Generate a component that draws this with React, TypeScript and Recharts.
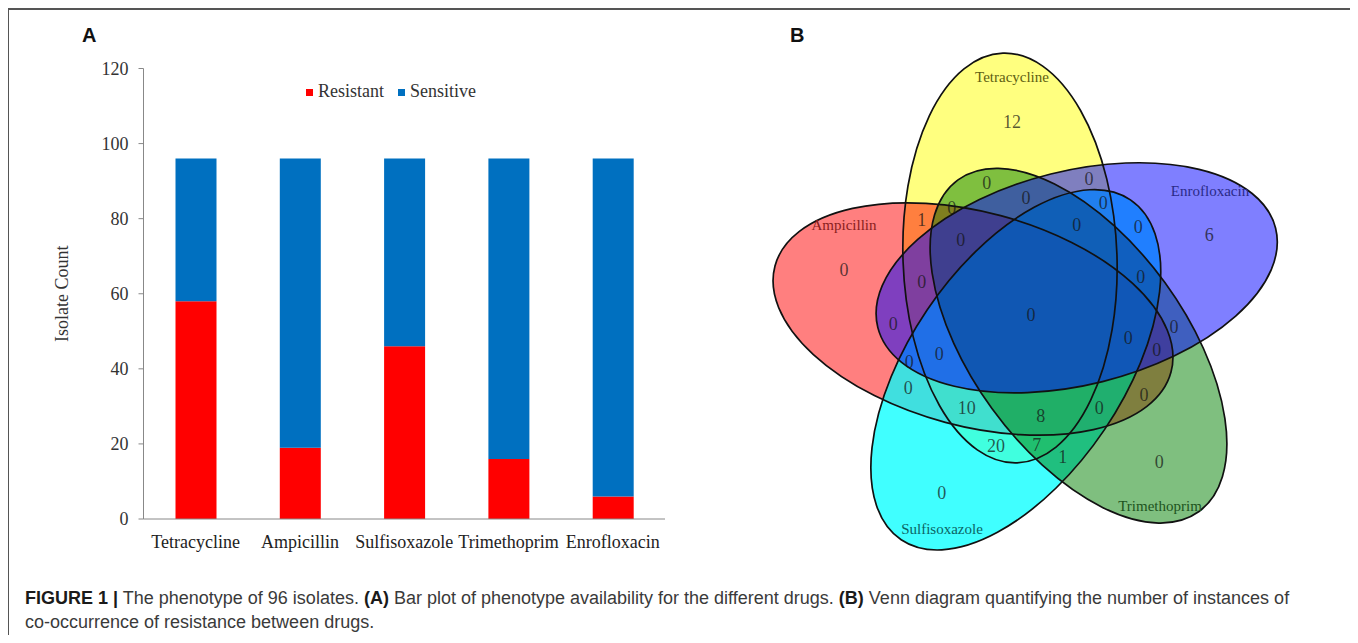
import React from 'react';
import { Bar, BarChart, Legend, Scatter, ScatterChart, XAxis, YAxis } from 'recharts';

// panel A: phenotype counts per drug (96 isolates)
const drugs = ['Tetracycline', 'Ampicillin', 'Sulfisoxazole', 'Trimethoprim', 'Enrofloxacin'];
const resistant = [58, 19, 46, 16, 6];
const sensitive = [38, 77, 50, 80, 90];
const yTicks = [0, 20, 40, 60, 80, 100, 120];
const edgeTicks = [0, 1, 2, 3, 4, 5];

const barData = drugs.map((drug, i) => ({ drug, resistant: resistant[i], sensitive: sensitive[i] }));

// panel B: five-set venn, ellipses in draw order
const vennSets = ['Tetracycline', 'Ampicillin', 'Sulfisoxazole', 'Trimethoprim', 'Enrofloxacin'];
const vennFill = ['#ffff00', '#ff0000', '#00ffff', '#008000', '#0000ff'];
const vennAlpha = [0.5, 0.5, 0.75, 0.5, 0.5];
const vennCx = [1010, 973, 1015.8, 1078.5, 1076.7];
const vennCy = [258, 319, 369.8, 345.7, 277.8];
const vennAngle = [-92, 195, 124, 54, -14];
const vennRx = 205;
const vennRy = 107;
const vennNameX = [1012, 844, 942, 1160, 1210];
const vennNameY = [77, 225, 529, 506, 191];
const vennNameColor = ['#5e5e12', '#8a1d1d', '#0b6464', '#1d531d', '#2a2a88'];

// region counts and where they sit
const regionCounts = [12, 0, 0, 0, 0, 0, 1, 0, 0, 6, 0, 0, 0, 0, 0, 0, 0, 0, 0, 0, 0, 0, 0, 10, 0, 8, 20, 7, 1, 0, 0];
const regionX = [1012, 986.7, 1089, 1026, 1103.3, 951.7, 921.7, 1076.7, 1138.3, 1209.3, 960.7, 844, 921.7, 1140.7, 1031, 893.3, 1174, 1128.3, 1156.7, 939.3, 909.3, 908.3, 1144, 966.7, 1099.3, 1040.7, 996, 1036.7, 1062.7, 1159.3, 941.7];
const regionY = [121.7, 183.3, 179.3, 198.3, 203.3, 208.3, 220, 225, 226.7, 235, 240, 270, 281.7, 277.3, 315, 324, 327.3, 338.3, 350, 354, 361.7, 388.3, 395, 408.3, 408.3, 416, 446, 445, 457.3, 461.7, 493.3];

const ellipses = vennSets.map((name, i) => ({
  name, x: vennCx[i], y: vennCy[i], angle: vennAngle[i], fill: vennFill[i], alpha: vennAlpha[i],
}));
const setNames = vennSets.map((name, i) => ({ name, x: vennNameX[i], y: vennNameY[i], color: vennNameColor[i] }));
const regions = regionCounts.map((n, i) => ({ n, x: regionX[i], y: regionY[i] }));

const serif = '"Liberation Serif", "Times New Roman", serif';
const sans = '"Liberation Sans", Arial, sans-serif';

const EllipseFill = (props: any) => {
  const { cx, cy, payload } = props;
  return (
    <ellipse cx={cx} cy={cy} rx={vennRx} ry={vennRy} transform={`rotate(${payload.angle} ${cx} ${cy})`}
      fill={payload.fill} fillOpacity={payload.alpha} stroke="none" />
  );
};

const EllipseEdge = (props: any) => {
  const { cx, cy, payload } = props;
  return (
    <ellipse cx={cx} cy={cy} rx={vennRx} ry={vennRy} transform={`rotate(${payload.angle} ${cx} ${cy})`}
      fill="none" stroke="#111" strokeWidth={1.7} />
  );
};

const NameText = (props: any) => {
  const { cx, cy, payload } = props;
  return (
    <text x={cx} y={cy} textAnchor="middle" dominantBaseline="central" fontFamily={serif} fontSize={15} fill={payload.color}>
      {payload.name}
    </text>
  );
};

const CountText = (props: any) => {
  const { cx, cy, payload } = props;
  return (
    <text x={cx} y={cy} textAnchor="middle" dominantBaseline="central" fontFamily={serif} fontSize={18} fill="#141414" fillOpacity={0.72}>
      {payload.n}
    </text>
  );
};

const renderLegend = () => (
  <div style={{ display: 'flex', alignItems: 'center', fontFamily: serif, fontSize: 18, lineHeight: '18px', color: '#333', whiteSpace: 'nowrap' }}>
    <span style={{ width: 7, height: 7, background: '#ff0000', display: 'inline-block', marginRight: 5, position: 'relative', top: 1 }} />
    <span>Resistant</span>
    <span style={{ width: 7, height: 7, background: '#0070c0', display: 'inline-block', marginLeft: 14, marginRight: 5, position: 'relative', top: 1 }} />
    <span>Sensitive</span>
  </div>
);

export default function App() {
  return (
    <div style={{ position: 'relative', width: 1342, height: 627 }}>
      <style>{'html,body{overflow:hidden}'}</style>
      <div style={{ position: 'absolute', left: 0, top: 0, width: 1349, height: 660, boxSizing: 'border-box', borderTop: '2px solid #555', borderLeft: '1.5px solid #555', borderRight: '2px solid #777' }} />

      <div style={{ position: 'absolute', left: 74, top: 17, fontFamily: sans, fontWeight: 'bold', fontSize: 20, lineHeight: '20px', color: '#111' }}>A</div>
      <div style={{ position: 'absolute', left: 782, top: 17, fontFamily: sans, fontWeight: 'bold', fontSize: 20, lineHeight: '20px', color: '#111' }}>B</div>

      <div style={{ position: 'absolute', left: 32, top: 32 }}>
        <BarChart width={640} height={530} data={barData} margin={{ top: 28.5, right: 15, bottom: 11, left: 0 }} barSize={41}>
          <XAxis xAxisId="edges" type="number" domain={[0, 5]} ticks={edgeTicks} tick={false} height={0}
            axisLine={false} tickLine={{ stroke: '#888' }} tickSize={5} />
          <XAxis dataKey="drug" height={40} tickLine={false} axisLine={{ stroke: '#888' }} tickMargin={10}
            tick={{ fill: '#222', fontSize: 18, fontFamily: serif }} interval={0} />
          <YAxis width={103.5} domain={[0, 120]} ticks={yTicks} tickSize={5} tickMargin={10}
            axisLine={{ stroke: '#888' }} tickLine={{ stroke: '#888' }}
            tick={{ fill: '#333', fontSize: 18, fontFamily: serif }}
            label={{ value: 'Isolate Count', angle: -90, position: 'insideLeft', offset: 22, style: { textAnchor: 'middle', fill: '#333', fontSize: 18, fontFamily: serif } }} />
          <Legend layout="horizontal" verticalAlign="middle" align="center" content={renderLegend}
            wrapperStyle={{ position: 'absolute', left: 266, top: 42, width: 'auto' }} />
          <Bar dataKey="resistant" name="Resistant" stackId="a" fill="#ff0000" isAnimationActive={false} />
          <Bar dataKey="sensitive" name="Sensitive" stackId="a" fill="#0070c0" isAnimationActive={false} />
        </BarChart>
      </div>

      <div style={{ position: 'absolute', left: 752, top: 32 }}>
        <ScatterChart width={540} height={520} margin={{ top: 0, right: 0, bottom: 0, left: 0 }}>
          <XAxis type="number" dataKey="x" domain={[760, 1300]} hide />
          <YAxis type="number" dataKey="y" domain={[40, 560]} reversed hide />
          <Scatter data={ellipses} shape={EllipseFill} isAnimationActive={false} />
          <Scatter data={ellipses} shape={EllipseEdge} isAnimationActive={false} />
          <Scatter data={setNames} shape={NameText} isAnimationActive={false} />
          <Scatter data={regions} shape={CountText} isAnimationActive={false} />
        </ScatterChart>
      </div>

      <div style={{ position: 'absolute', left: 17, top: 578, fontFamily: sans, fontSize: 18, lineHeight: '24px', color: '#3a3a3a', whiteSpace: 'nowrap' }}>
        <b style={{ color: '#1a1a1a' }}>FIGURE 1 |</b> The phenotype of 96 isolates. <b style={{ color: '#1a1a1a' }}>(A)</b> Bar plot of phenotype availability for the different drugs. <b style={{ color: '#1a1a1a' }}>(B)</b> Venn diagram quantifying the number of instances of
        <br />
        co-occurrence of resistance between drugs.
      </div>
    </div>
  );
}
